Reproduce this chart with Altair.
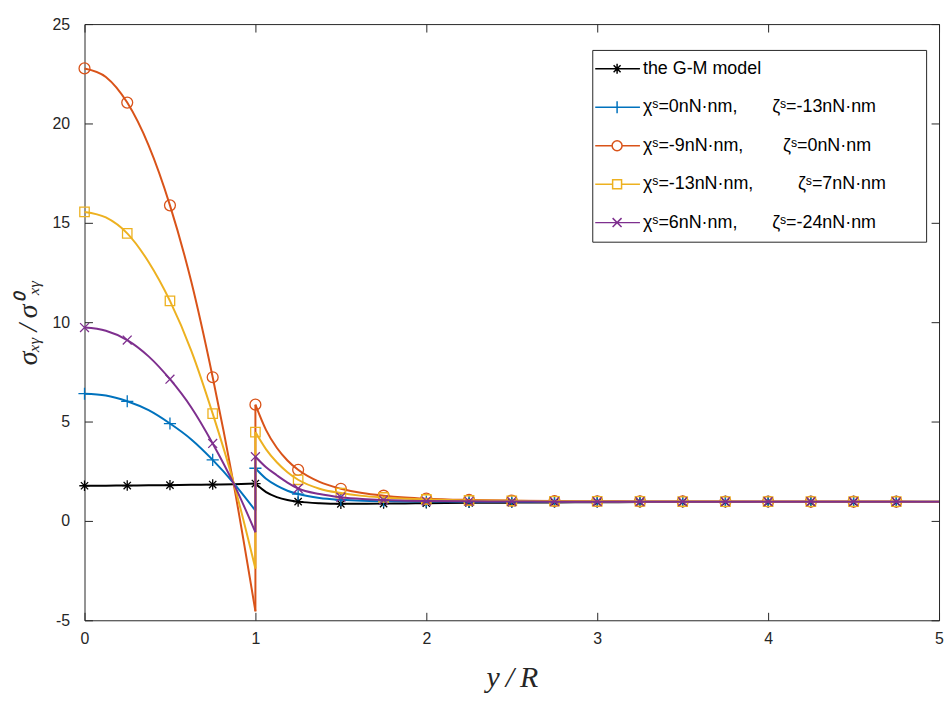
import altair as alt
import pandas as pd

# ---------------- data ----------------
X_INNER = [0.0, 0.125, 0.25, 0.375, 0.5, 0.625, 0.75, 0.875, 1.0]
X_OUTER = [1.0, 1.0625, 1.125, 1.1875, 1.25, 1.375, 1.5, 1.625, 1.75, 1.875, 2.0,
           2.25, 2.5, 2.75, 3.0, 3.25, 3.5, 3.75, 4.0, 4.25, 4.5, 4.75, 5.0]

GM_IN = [1.77, 1.775, 1.78, 1.79, 1.80, 1.815, 1.83, 1.85, 1.88]
GM_OUT = [1.88, 1.45, 1.20, 1.05, 0.97, 0.89, 0.86, 0.86, 0.87, 0.88, 0.89,
          0.91, 0.92, 0.93, 0.94, 0.945, 0.95, 0.95, 0.95, 0.95, 0.95, 0.95, 0.95]

BLUE_IN = [6.40, 6.31, 6.02, 5.57, 4.90, 4.10, 3.07, 1.88, 0.52]
BLUE_OUT = [2.65, 2.12, 1.77, 1.52, 1.35, 1.15, 1.06, 1.01, 0.99, 0.98, 0.975,
            0.97, 0.97, 0.97, 0.97, 0.97, 0.97, 0.97, 0.97, 0.97, 0.97, 0.97, 0.97]

RED_IN = [22.77, 22.34, 21.05, 18.90, 15.88, 12.03, 7.23, 1.75, -4.55]
RED_OUT = [5.85, 4.57, 3.68, 3.04, 2.57, 1.96, 1.62, 1.40, 1.27, 1.18, 1.12,
           1.055, 1.02, 1.00, 0.99, 0.983, 0.979, 0.977, 0.975, 0.973, 0.972, 0.971, 0.97]

YEL_IN = [15.55, 15.27, 14.47, 13.03, 11.07, 8.56, 5.40, 1.85, -2.40]
YEL_OUT = [4.47, 3.60, 2.95, 2.45, 2.07, 1.62, 1.40, 1.26, 1.18, 1.12, 1.08,
           1.03, 1.01, 0.99, 0.985, 0.98, 0.975, 0.972, 0.97, 0.97, 0.97, 0.97, 0.97]

PUR_IN = [9.73, 9.57, 9.10, 8.28, 7.13, 5.71, 3.90, 1.84, -0.57]
PUR_OUT = [3.23, 2.70, 2.30, 1.93, 1.63, 1.35, 1.19, 1.10, 1.05, 1.02, 1.00,
           0.985, 0.975, 0.97, 0.97, 0.97, 0.97, 0.97, 0.97, 0.97, 0.97, 0.97, 0.97]

NB = "\u00a0"
TS = "\u2009"
ZW = "\u200b"
LABELS = [
    "the G-M model",
    "χˢ=0nN·nm," + NB * 7 + "ζˢ=-13nN·nm",
    "χˢ=-9nN·nm," + NB * 8 + "ζˢ=0nN·nm",
    "χˢ=-13nN·nm," + NB * 9 + "ζˢ=7nN·nm" + NB * 6 + ZW,
    "χˢ=6nN·nm," + NB * 7 + "ζˢ=-24nN·nm",
]
SERIES_IN = [GM_IN, BLUE_IN, RED_IN, YEL_IN, PUR_IN]
SERIES_OUT = [GM_OUT, BLUE_OUT, RED_OUT, YEL_OUT, PUR_OUT]

X_TICKS = [0, 1, 2, 3, 4, 5]
Y_TICKS = [-5, 0, 5, 10, 15, 20, 25]
MARKER_STEP = 0.25
X_TITLE = "y" + TS + "/" + TS + "R"
Y_TITLE = "σₓᵧ" + TS + "/" + TS + "σ⁰ₓᵧ"

# ---------------- styles ----------------
COLORS = ["#000000", "#0072BD", "#D95319", "#EDB120", "#7E2F8E"]
ASTER = "M-1,0L1,0M0,-1L0,1M-0.7,-0.7L0.7,0.7M-0.7,0.7L0.7,-0.7"
PLUS = "M-1,0L1,0M0,-1L0,1"
XMARK = "M-1,-1L1,1M-1,1L1,-1"
MARKER_SHAPES = [ASTER, PLUS, "circle", "square", XMARK]
MARKER_SIZES = [110, 150, 120, 90, 80]

LEG_PATHS = [
    "M-3.2,0L5.8,0M1.2,-1L1.2,1M0.5,-0.7L1.9,0.7M0.5,0.7L1.9,-0.7",
    "M-3.2,0L5.8,0M1.2,-1.2L1.2,1.2",
    "M-3.2,0L0.2,0M2.2,0L5.8,0M2.2,0A1,1,0,1,1,0.2,0A1,1,0,1,1,2.2,0",
    "M-3.2,0L0.3,0M2.1,0L5.8,0M0.3,-0.9L2.1,-0.9L2.1,0.9L0.3,0.9Z",
    "M-3.2,0L5.8,0M0.3,-0.9L2.1,0.9M0.3,0.9L2.1,-0.9",
]

AX = "#262626"

x_axis = alt.Axis(values=X_TICKS, labelExpr="'' + datum.value", domain=False,
                  ticks=False, grid=True, gridColor=AX, gridWidth=1, gridOpacity=1,
                  gridDash=[8, 584, 8, 1000], labelFont="Liberation Sans",
                  labelFontSize=16, labelColor=AX, labelPadding=10, labelFlush=False,
                  title=X_TITLE, titleFont="Liberation Serif", titleFontStyle="italic",
                  titleFontWeight="normal", titleFontSize=30, titleColor=AX,
                  titleX=430, titleY=58, titleBaseline="middle", titleAlign="center")
y_axis = alt.Axis(values=Y_TICKS, labelExpr="'' + datum.value", domain=False,
                  ticks=False, grid=True, gridColor=AX, gridWidth=1, gridOpacity=1,
                  gridDash=[8, 844, 8, 1000], labelFont="Liberation Sans",
                  labelFontSize=16, labelColor=AX, labelPadding=15, labelFlush=False,
                  title=Y_TITLE, titleFont="Liberation Serif", titleFontStyle="italic",
                  titleFontWeight="normal", titleFontSize=28, titleColor=AX,
                  titleAngle=270, titleX=-56, titleY=300, titleBaseline="middle",
                  titleAlign="center")


def X():
    return alt.X("x:Q", scale=alt.Scale(domain=[0, 5], nice=False), axis=x_axis)


def Y():
    return alt.Y("y:Q", scale=alt.Scale(domain=[-5, 25], nice=False), axis=y_axis)


layers = []
for i, (yin, yout) in enumerate(zip(SERIES_IN, SERIES_OUT)):
    rows = []
    k = 0
    for xv, yv in zip(X_INNER, yin):
        rows.append({"x": xv, "y": yv, "seg": "a", "ord": k}); k += 1
    rows.append({"x": X_INNER[-1], "y": yin[-1], "seg": "b", "ord": k}); k += 1
    rows.append({"x": X_OUTER[0], "y": yout[0], "seg": "b", "ord": k}); k += 1
    for xv, yv in zip(X_OUTER, yout):
        rows.append({"x": xv, "y": yv, "seg": "c", "ord": k}); k += 1
    line_df = pd.DataFrame(rows)

    mrows = []
    for xv, yv in zip(X_INNER[:-1], yin[:-1]):
        if abs(xv / MARKER_STEP - round(xv / MARKER_STEP)) < 1e-9:
            mrows.append({"x": xv, "y": yv})
    for xv, yv in zip(X_OUTER[:-1], yout[:-1]):
        if abs(xv / MARKER_STEP - round(xv / MARKER_STEP)) < 1e-9:
            mrows.append({"x": xv, "y": yv})
    mk_df = pd.DataFrame(mrows)

    layers.append(
        alt.Chart(line_df).mark_line(color=COLORS[i], strokeWidth=2,
                                     interpolate="monotone").encode(
            x=X(), y=Y(), detail="seg:N", order="ord:Q")
    )
    layers.append(
        alt.Chart(mk_df).mark_point(shape=MARKER_SHAPES[i], size=MARKER_SIZES[i],
                                    filled=False, strokeWidth=1.3, opacity=1,
                                    color=COLORS[i]).encode(x=X(), y=Y())
    )

legend = alt.Legend(title=None, orient="none", legendX=511, legendY=26, padding=10,
                    strokeColor=AX, fillColor="white", labelFont="Liberation Sans",
                    labelFontSize=18, labelColor="black", labelLimit=500,
                    labelOffset=23, rowPadding=20.7, symbolSize=100,
                    symbolStrokeWidth=1.5)

leg_df = pd.DataFrame({"label": LABELS, "x": [-1.0] * len(LABELS),
                       "y": [-100.0] * len(LABELS)})
layers.append(
    alt.Chart(leg_df).mark_point(filled=False, clip=True, opacity=1).encode(
        x=X(), y=Y(),
        color=alt.Color("label:N", scale=alt.Scale(domain=LABELS, range=COLORS),
                        legend=legend),
        shape=alt.Shape("label:N", scale=alt.Scale(domain=LABELS, range=LEG_PATHS),
                        legend=legend),
    )
)

chart = alt.layer(*layers).properties(
    width=860, height=600,
    padding={"left": 77, "top": 14, "right": 5, "bottom": 72},
    autosize=alt.AutoSizeParams(type="none"),
).configure_view(stroke=AX, strokeWidth=1)

chart.save("out.html", embed_options={"renderer": "svg", "actions": False})
